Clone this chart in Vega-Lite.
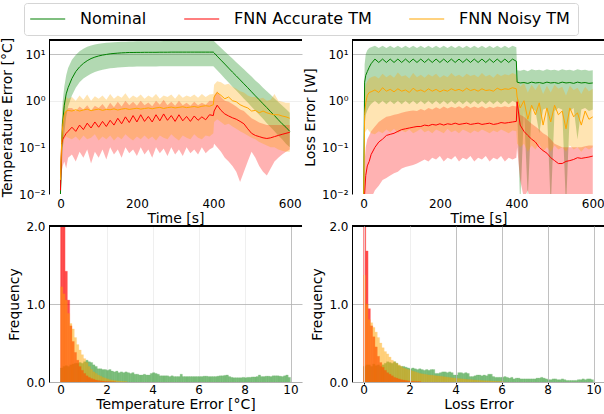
{
"$schema": "https://vega.github.io/schema/vega-lite/v6.json",
"background": "white",
"padding": {"left": 0, "top": 2, "right": 0, "bottom": 0},
"config": {
  "font": "DejaVu Sans",
  "view": {"stroke": null},
  "axis": {"labelFont": "DejaVu Sans", "titleFont": "DejaVu Sans", "labelFontSize": 12, "titleFontSize": 14, "titleFontWeight": "normal", "labelColor": "#000", "titleColor": "#000", "domainColor": "#000", "tickColor": "#000", "gridWidth": 0.8, "labelFlush": false}
},
"datasets": {
"ts": [
{"p":"T","t":0,"Nm":0.01,"Nl":0.005,"Nh":0.02,"Am":0.012,"Al":0.008,"Ah":0.02,"Ym":0.02,"Yl":0.01,"Yh":0.05},
{"p":"T","t":3,"Nm":0.1,"Nl":0.03,"Nh":0.3,"Am":0.12,"Al":0.03,"Ah":0.3,"Ym":0.12,"Yl":0.05,"Yh":0.25},
{"p":"T","t":6,"Nm":0.35,"Nl":0.1,"Nh":1.0,"Am":0.15,"Al":0.04,"Ah":0.4,"Ym":0.3,"Yl":0.1,"Yh":0.7},
{"p":"T","t":10,"Nm":0.8,"Nl":0.2,"Nh":2.0,"Am":0.17,"Al":0.05,"Ah":0.55,"Ym":0.5,"Yl":0.15,"Yh":1.0},
{"p":"T","t":15,"Nm":1.4,"Nl":0.45,"Nh":3.5,"Am":0.2,"Al":0.035,"Ah":0.6,"Ym":0.6,"Yl":0.17,"Yh":1.2},
{"p":"T","t":20,"Nm":1.9,"Nl":0.75,"Nh":5.0,"Am":0.22,"Al":0.06,"Ah":0.7,"Ym":0.62,"Yl":0.16,"Yh":1.1},
{"p":"T","t":30,"Nm":3.0,"Nl":1.3,"Nh":7.5,"Am":0.27,"Al":0.07,"Ah":0.7,"Ym":0.6,"Yl":0.15,"Yh":1.2},
{"p":"T","t":40,"Nm":4.2,"Nl":1.9,"Nh":9.5,"Am":0.22,"Al":0.05,"Ah":0.6,"Ym":0.64,"Yl":0.17,"Yh":1.0},
{"p":"T","t":50,"Nm":5.3,"Nl":2.5,"Nh":11.5,"Am":0.3,"Al":0.08,"Ah":0.75,"Ym":0.6,"Yl":0.14,"Yh":1.3},
{"p":"T","t":60,"Nm":6.3,"Nl":3.0,"Nh":13,"Am":0.24,"Al":0.06,"Ah":0.65,"Ym":0.63,"Yl":0.18,"Yh":1.05},
{"p":"T","t":70,"Nm":7.2,"Nl":3.4,"Nh":14.3,"Am":0.33,"Al":0.09,"Ah":0.8,"Ym":0.66,"Yl":0.15,"Yh":1.35},
{"p":"T","t":80,"Nm":8.0,"Nl":3.8,"Nh":15.3,"Am":0.26,"Al":0.045,"Ah":0.62,"Ym":0.61,"Yl":0.16,"Yh":1.0},
{"p":"T","t":90,"Nm":8.6,"Nl":4.1,"Nh":16,"Am":0.35,"Al":0.08,"Ah":0.78,"Ym":0.64,"Yl":0.19,"Yh":1.25},
{"p":"T","t":100,"Nm":9.1,"Nl":4.4,"Nh":16.6,"Am":0.27,"Al":0.06,"Ah":0.7,"Ym":0.66,"Yl":0.14,"Yh":1.1},
{"p":"T","t":110,"Nm":9.5,"Nl":4.6,"Nh":17,"Am":0.36,"Al":0.09,"Ah":0.85,"Ym":0.62,"Yl":0.17,"Yh":1.3},
{"p":"T","t":120,"Nm":9.8,"Nl":4.8,"Nh":17.4,"Am":0.28,"Al":0.055,"Ah":0.66,"Ym":0.65,"Yl":0.15,"Yh":1.05},
{"p":"T","t":130,"Nm":10.1,"Nl":4.95,"Nh":17.7,"Am":0.38,"Al":0.1,"Ah":0.9,"Ym":0.64,"Yl":0.18,"Yh":1.4},
{"p":"T","t":140,"Nm":10.3,"Nl":5.05,"Nh":17.9,"Am":0.3,"Al":0.07,"Ah":0.72,"Ym":0.67,"Yl":0.14,"Yh":1.1},
{"p":"T","t":150,"Nm":10.45,"Nl":5.15,"Nh":18.1,"Am":0.42,"Al":0.09,"Ah":0.95,"Ym":0.63,"Yl":0.17,"Yh":1.3},
{"p":"T","t":160,"Nm":10.6,"Nl":5.2,"Nh":18.3,"Am":0.32,"Al":0.06,"Ah":0.75,"Ym":0.66,"Yl":0.15,"Yh":1.15},
{"p":"T","t":170,"Nm":10.7,"Nl":5.3,"Nh":18.4,"Am":0.45,"Al":0.1,"Ah":1.0,"Ym":0.68,"Yl":0.19,"Yh":1.45},
{"p":"T","t":180,"Nm":10.8,"Nl":5.35,"Nh":18.5,"Am":0.34,"Al":0.075,"Ah":0.8,"Ym":0.65,"Yl":0.16,"Yh":1.1},
{"p":"T","t":190,"Nm":10.8,"Nl":5.35,"Nh":18.6,"Am":0.48,"Al":0.09,"Ah":0.95,"Ym":0.67,"Yl":0.14,"Yh":1.3},
{"p":"T","t":200,"Nm":10.85,"Nl":5.4,"Nh":18.7,"Am":0.35,"Al":0.065,"Ah":0.78,"Ym":0.69,"Yl":0.17,"Yh":1.15},
{"p":"T","t":210,"Nm":10.85,"Nl":5.4,"Nh":18.7,"Am":0.5,"Al":0.1,"Ah":1.0,"Ym":0.66,"Yl":0.15,"Yh":1.35},
{"p":"T","t":220,"Nm":10.9,"Nl":5.4,"Nh":18.8,"Am":0.36,"Al":0.07,"Ah":0.8,"Ym":0.68,"Yl":0.18,"Yh":1.1},
{"p":"T","t":230,"Nm":10.9,"Nl":5.42,"Nh":18.8,"Am":0.46,"Al":0.09,"Ah":0.92,"Ym":0.7,"Yl":0.15,"Yh":1.3},
{"p":"T","t":240,"Nm":10.9,"Nl":5.42,"Nh":18.9,"Am":0.35,"Al":0.06,"Ah":0.76,"Ym":0.67,"Yl":0.17,"Yh":1.15},
{"p":"T","t":250,"Nm":10.9,"Nl":5.44,"Nh":18.9,"Am":0.5,"Al":0.1,"Ah":1.0,"Ym":0.7,"Yl":0.14,"Yh":1.4},
{"p":"T","t":260,"Nm":10.95,"Nl":5.45,"Nh":18.9,"Am":0.37,"Al":0.075,"Ah":0.82,"Ym":0.72,"Yl":0.18,"Yh":1.1},
{"p":"T","t":270,"Nm":10.95,"Nl":5.45,"Nh":19,"Am":0.52,"Al":0.095,"Ah":1.05,"Ym":0.68,"Yl":0.16,"Yh":1.3},
{"p":"T","t":280,"Nm":10.95,"Nl":5.46,"Nh":19,"Am":0.38,"Al":0.065,"Ah":0.8,"Ym":0.71,"Yl":0.15,"Yh":1.2},
{"p":"T","t":290,"Nm":11,"Nl":5.46,"Nh":19,"Am":0.48,"Al":0.1,"Ah":0.95,"Ym":0.73,"Yl":0.19,"Yh":1.35},
{"p":"T","t":300,"Nm":11,"Nl":5.47,"Nh":19,"Am":0.36,"Al":0.07,"Ah":0.78,"Ym":0.7,"Yl":0.16,"Yh":1.1},
{"p":"T","t":310,"Nm":11,"Nl":5.47,"Nh":19.1,"Am":0.5,"Al":0.09,"Ah":1.0,"Ym":0.72,"Yl":0.14,"Yh":1.4},
{"p":"T","t":320,"Nm":11,"Nl":5.48,"Nh":19.1,"Am":0.37,"Al":0.065,"Ah":0.8,"Ym":0.74,"Yl":0.18,"Yh":1.15},
{"p":"T","t":330,"Nm":11,"Nl":5.48,"Nh":19.1,"Am":0.46,"Al":0.1,"Ah":0.9,"Ym":0.71,"Yl":0.16,"Yh":1.3},
{"p":"T","t":340,"Nm":11,"Nl":5.48,"Nh":19.1,"Am":0.36,"Al":0.075,"Ah":0.78,"Ym":0.73,"Yl":0.15,"Yh":1.2},
{"p":"T","t":350,"Nm":11,"Nl":5.49,"Nh":19.2,"Am":0.47,"Al":0.09,"Ah":0.95,"Ym":0.75,"Yl":0.19,"Yh":1.35},
{"p":"T","t":360,"Nm":11,"Nl":5.49,"Nh":19.2,"Am":0.38,"Al":0.07,"Ah":0.8,"Ym":0.72,"Yl":0.16,"Yh":1.15},
{"p":"T","t":370,"Nm":11,"Nl":5.5,"Nh":19.2,"Am":0.45,"Al":0.1,"Ah":0.9,"Ym":0.76,"Yl":0.15,"Yh":1.4},
{"p":"T","t":380,"Nm":11,"Nl":5.5,"Nh":19.2,"Am":0.39,"Al":0.075,"Ah":0.82,"Ym":0.78,"Yl":0.18,"Yh":1.2},
{"p":"T","t":390,"Nm":11,"Nl":5.5,"Nh":19.2,"Am":0.5,"Al":0.09,"Ah":1.0,"Ym":0.76,"Yl":0.17,"Yh":1.35},
{"p":"T","t":400,"Nm":11,"Nl":5.5,"Nh":19.2,"Am":0.48,"Al":0.1,"Ah":1.0,"Ym":0.82,"Yl":0.2,"Yh":1.4},
{"p":"T","t":402,"Nm":10.6,"Nl":5.3,"Nh":18.9,"Am":0.6,"Al":0.12,"Ah":1.3,"Ym":1.2,"Yl":0.35,"Yh":2.2},
{"p":"T","t":410,"Nm":9.0,"Nl":4.5,"Nh":16.3,"Am":0.8,"Al":0.1,"Ah":1.6,"Ym":1.5,"Yl":0.4,"Yh":2.6},
{"p":"T","t":420,"Nm":7.4,"Nl":3.7,"Nh":13.6,"Am":0.62,"Al":0.08,"Ah":1.2,"Ym":1.3,"Yl":0.35,"Yh":2.5},
{"p":"T","t":430,"Nm":6.1,"Nl":3.0,"Nh":11.4,"Am":0.52,"Al":0.06,"Ah":1.0,"Ym":1.1,"Yl":0.3,"Yh":2.2},
{"p":"T","t":440,"Nm":5.0,"Nl":2.47,"Nh":9.5,"Am":0.47,"Al":0.05,"Ah":0.95,"Ym":1.2,"Yl":0.32,"Yh":2.3},
{"p":"T","t":450,"Nm":4.1,"Nl":2.0,"Nh":8.0,"Am":0.43,"Al":0.04,"Ah":0.85,"Ym":1.0,"Yl":0.28,"Yh":2.0},
{"p":"T","t":460,"Nm":3.4,"Nl":1.65,"Nh":6.7,"Am":0.4,"Al":0.03,"Ah":0.75,"Ym":0.95,"Yl":0.25,"Yh":1.8},
{"p":"T","t":470,"Nm":2.8,"Nl":1.35,"Nh":5.6,"Am":0.36,"Al":0.018,"Ah":0.65,"Ym":0.82,"Yl":0.22,"Yh":1.6},
{"p":"T","t":480,"Nm":2.3,"Nl":1.1,"Nh":4.7,"Am":0.32,"Al":0.03,"Ah":0.6,"Ym":0.75,"Yl":0.2,"Yh":1.5},
{"p":"T","t":490,"Nm":1.9,"Nl":0.91,"Nh":3.9,"Am":0.25,"Al":0.05,"Ah":0.5,"Ym":0.7,"Yl":0.18,"Yh":1.3},
{"p":"T","t":500,"Nm":1.55,"Nl":0.74,"Nh":3.3,"Am":0.2,"Al":0.08,"Ah":0.42,"Ym":0.6,"Yl":0.16,"Yh":1.2},
{"p":"T","t":510,"Nm":1.27,"Nl":0.61,"Nh":2.7,"Am":0.18,"Al":0.06,"Ah":0.38,"Ym":0.62,"Yl":0.15,"Yh":1.2},
{"p":"T","t":520,"Nm":1.05,"Nl":0.5,"Nh":2.3,"Am":0.17,"Al":0.04,"Ah":0.34,"Ym":0.55,"Yl":0.13,"Yh":1.1},
{"p":"T","t":530,"Nm":0.86,"Nl":0.41,"Nh":1.9,"Am":0.16,"Al":0.03,"Ah":0.32,"Ym":0.6,"Yl":0.12,"Yh":1.15},
{"p":"T","t":540,"Nm":0.71,"Nl":0.33,"Nh":1.6,"Am":0.155,"Al":0.025,"Ah":0.3,"Ym":0.55,"Yl":0.11,"Yh":1.0},
{"p":"T","t":550,"Nm":0.58,"Nl":0.27,"Nh":1.34,"Am":0.16,"Al":0.035,"Ah":0.3,"Ym":0.52,"Yl":0.1,"Yh":1.05},
{"p":"T","t":560,"Nm":0.48,"Nl":0.22,"Nh":1.12,"Am":0.17,"Al":0.05,"Ah":0.3,"Ym":0.5,"Yl":0.1,"Yh":1.4},
{"p":"T","t":570,"Nm":0.39,"Nl":0.18,"Nh":0.94,"Am":0.18,"Al":0.06,"Ah":0.3,"Ym":0.5,"Yl":0.09,"Yh":1.0},
{"p":"T","t":580,"Nm":0.32,"Nl":0.15,"Nh":0.79,"Am":0.19,"Al":0.07,"Ah":0.3,"Ym":0.47,"Yl":0.085,"Yh":0.95},
{"p":"T","t":590,"Nm":0.27,"Nl":0.12,"Nh":0.66,"Am":0.2,"Al":0.08,"Ah":0.3,"Ym":0.45,"Yl":0.08,"Yh":0.9},
{"p":"T","t":600,"Nm":0.22,"Nl":0.1,"Nh":0.55,"Am":0.21,"Al":0.09,"Ah":0.3,"Ym":0.42,"Yl":0.08,"Yh":0.9},
{"p":"L","t":0,"Nm":0.003,"Nl":0.001,"Nh":0.005,"Am":0.003,"Al":0.001,"Ah":0.005,"Ym":0.003,"Yl":0.001,"Yh":0.005},
{"p":"L","t":3,"Nm":2.5,"Nl":0.3,"Nh":6,"Am":0.01,"Al":0.001,"Ah":0.05,"Ym":0.5,"Yl":0.2,"Yh":1.5},
{"p":"L","t":6,"Nm":3.5,"Nl":0.5,"Nh":10,"Am":0.025,"Al":0.002,"Ah":0.1,"Ym":0.9,"Yl":0.22,"Yh":2.2},
{"p":"L","t":10,"Nm":4.2,"Nl":0.62,"Nh":12,"Am":0.04,"Al":0.004,"Ah":0.15,"Ym":1.3,"Yl":0.25,"Yh":2.6},
{"p":"L","t":15,"Nm":5.2,"Nl":0.75,"Nh":13.5,"Am":0.05,"Al":0.006,"Ah":0.18,"Ym":1.5,"Yl":0.22,"Yh":3.0},
{"p":"L","t":20,"Nm":6.2,"Nl":0.85,"Nh":14,"Am":0.07,"Al":0.008,"Ah":0.22,"Ym":1.55,"Yl":0.2,"Yh":3.2},
{"p":"L","t":30,"Nm":7.8,"Nl":1.0,"Nh":15,"Am":0.1,"Al":0.012,"Ah":0.28,"Ym":1.7,"Yl":0.19,"Yh":3.4},
{"p":"L","t":40,"Nm":6.6,"Nl":0.84,"Nh":13.5,"Am":0.13,"Al":0.015,"Ah":0.35,"Ym":1.5,"Yl":0.22,"Yh":3.0},
{"p":"L","t":50,"Nm":7.8,"Nl":1.0,"Nh":15,"Am":0.15,"Al":0.02,"Ah":0.4,"Ym":1.9,"Yl":0.2,"Yh":3.8},
{"p":"L","t":60,"Nm":6.6,"Nl":0.84,"Nh":13.5,"Am":0.18,"Al":0.022,"Ah":0.45,"Ym":1.6,"Yl":0.24,"Yh":3.2},
{"p":"L","t":70,"Nm":7.8,"Nl":1.0,"Nh":15,"Am":0.19,"Al":0.025,"Ah":0.47,"Ym":1.75,"Yl":0.21,"Yh":3.6},
{"p":"L","t":80,"Nm":6.6,"Nl":0.84,"Nh":13.5,"Am":0.2,"Al":0.028,"Ah":0.5,"Ym":1.55,"Yl":0.25,"Yh":3.1},
{"p":"L","t":90,"Nm":7.8,"Nl":1.0,"Nh":15,"Am":0.22,"Al":0.03,"Ah":0.52,"Ym":1.8,"Yl":0.2,"Yh":4.0},
{"p":"L","t":100,"Nm":6.6,"Nl":0.84,"Nh":13.5,"Am":0.24,"Al":0.035,"Ah":0.55,"Ym":1.6,"Yl":0.23,"Yh":3.3},
{"p":"L","t":110,"Nm":7.8,"Nl":1.0,"Nh":15,"Am":0.25,"Al":0.038,"Ah":0.58,"Ym":1.7,"Yl":0.21,"Yh":3.5},
{"p":"L","t":120,"Nm":6.6,"Nl":0.84,"Nh":13.5,"Am":0.26,"Al":0.04,"Ah":0.6,"Ym":1.5,"Yl":0.24,"Yh":3.0},
{"p":"L","t":130,"Nm":7.8,"Nl":1.0,"Nh":15,"Am":0.27,"Al":0.042,"Ah":0.62,"Ym":1.85,"Yl":0.2,"Yh":3.9},
{"p":"L","t":140,"Nm":6.6,"Nl":0.84,"Nh":13.5,"Am":0.28,"Al":0.045,"Ah":0.6,"Ym":1.6,"Yl":0.22,"Yh":3.2},
{"p":"L","t":150,"Nm":7.8,"Nl":1.0,"Nh":15,"Am":0.28,"Al":0.05,"Ah":0.66,"Ym":1.7,"Yl":0.25,"Yh":3.6},
{"p":"L","t":160,"Nm":6.6,"Nl":0.84,"Nh":13.5,"Am":0.3,"Al":0.055,"Ah":0.62,"Ym":1.55,"Yl":0.21,"Yh":3.1},
{"p":"L","t":170,"Nm":7.8,"Nl":1.0,"Nh":15,"Am":0.29,"Al":0.05,"Ah":0.7,"Ym":1.8,"Yl":0.23,"Yh":3.7},
{"p":"L","t":180,"Nm":6.6,"Nl":0.84,"Nh":13.5,"Am":0.31,"Al":0.06,"Ah":0.65,"Ym":1.6,"Yl":0.2,"Yh":3.3},
{"p":"L","t":190,"Nm":7.8,"Nl":1.0,"Nh":15,"Am":0.3,"Al":0.055,"Ah":0.72,"Ym":1.75,"Yl":0.24,"Yh":3.8},
{"p":"L","t":200,"Nm":6.6,"Nl":0.84,"Nh":13.5,"Am":0.32,"Al":0.065,"Ah":0.66,"Ym":1.55,"Yl":0.22,"Yh":3.1},
{"p":"L","t":210,"Nm":7.8,"Nl":1.0,"Nh":15,"Am":0.3,"Al":0.05,"Ah":0.75,"Ym":1.7,"Yl":0.2,"Yh":3.5},
{"p":"L","t":220,"Nm":6.6,"Nl":0.84,"Nh":13.5,"Am":0.32,"Al":0.06,"Ah":0.68,"Ym":1.6,"Yl":0.25,"Yh":3.2},
{"p":"L","t":230,"Nm":7.8,"Nl":1.0,"Nh":15,"Am":0.31,"Al":0.055,"Ah":0.74,"Ym":1.8,"Yl":0.21,"Yh":3.9},
{"p":"L","t":240,"Nm":6.6,"Nl":0.84,"Nh":13.5,"Am":0.33,"Al":0.065,"Ah":0.7,"Ym":1.65,"Yl":0.23,"Yh":3.3},
{"p":"L","t":250,"Nm":7.8,"Nl":1.0,"Nh":15,"Am":0.31,"Al":0.05,"Ah":0.76,"Ym":1.75,"Yl":0.2,"Yh":3.6},
{"p":"L","t":260,"Nm":6.6,"Nl":0.84,"Nh":13.5,"Am":0.32,"Al":0.06,"Ah":0.68,"Ym":1.6,"Yl":0.24,"Yh":3.2},
{"p":"L","t":270,"Nm":7.8,"Nl":1.0,"Nh":15,"Am":0.33,"Al":0.055,"Ah":0.78,"Ym":1.85,"Yl":0.22,"Yh":3.8},
{"p":"L","t":280,"Nm":6.6,"Nl":0.84,"Nh":13.5,"Am":0.31,"Al":0.065,"Ah":0.7,"Ym":1.65,"Yl":0.2,"Yh":3.4},
{"p":"L","t":290,"Nm":7.8,"Nl":1.0,"Nh":15,"Am":0.32,"Al":0.05,"Ah":0.75,"Ym":1.75,"Yl":0.23,"Yh":3.6},
{"p":"L","t":300,"Nm":6.6,"Nl":0.84,"Nh":13.5,"Am":0.33,"Al":0.06,"Ah":0.7,"Ym":1.6,"Yl":0.21,"Yh":3.2},
{"p":"L","t":310,"Nm":7.8,"Nl":1.0,"Nh":15,"Am":0.31,"Al":0.055,"Ah":0.76,"Ym":1.8,"Yl":0.24,"Yh":3.9},
{"p":"L","t":320,"Nm":6.6,"Nl":0.84,"Nh":13.5,"Am":0.32,"Al":0.065,"Ah":0.68,"Ym":1.65,"Yl":0.22,"Yh":3.3},
{"p":"L","t":330,"Nm":7.8,"Nl":1.0,"Nh":15,"Am":0.33,"Al":0.05,"Ah":0.74,"Ym":1.7,"Yl":0.2,"Yh":3.6},
{"p":"L","t":340,"Nm":6.6,"Nl":0.84,"Nh":13.5,"Am":0.31,"Al":0.06,"Ah":0.7,"Ym":1.6,"Yl":0.23,"Yh":3.1},
{"p":"L","t":350,"Nm":7.8,"Nl":1.0,"Nh":15,"Am":0.32,"Al":0.055,"Ah":0.75,"Ym":1.85,"Yl":0.21,"Yh":3.8},
{"p":"L","t":360,"Nm":6.6,"Nl":0.84,"Nh":13.5,"Am":0.34,"Al":0.065,"Ah":0.72,"Ym":1.7,"Yl":0.24,"Yh":3.4},
{"p":"L","t":370,"Nm":7.8,"Nl":1.0,"Nh":15,"Am":0.33,"Al":0.05,"Ah":0.76,"Ym":1.8,"Yl":0.22,"Yh":3.7},
{"p":"L","t":380,"Nm":6.6,"Nl":0.84,"Nh":13.5,"Am":0.34,"Al":0.06,"Ah":0.72,"Ym":1.75,"Yl":0.2,"Yh":3.5},
{"p":"L","t":390,"Nm":7.8,"Nl":1.0,"Nh":15,"Am":0.35,"Al":0.055,"Ah":0.78,"Ym":1.9,"Yl":0.23,"Yh":3.9},
{"p":"L","t":400,"Nm":7.0,"Nl":0.9,"Nh":14,"Am":0.36,"Al":0.06,"Ah":0.75,"Ym":1.8,"Yl":0.22,"Yh":3.6},
{"p":"L","t":402,"Nm":2.5,"Nl":0.8,"Nh":4.5,"Am":0.95,"Al":0.1,"Ah":1.2,"Ym":1.2,"Yl":0.12,"Yh":3.0},
{"p":"L","t":410,"Nm":2.4,"Nl":0.005,"Nh":4.4,"Am":0.3,"Al":0.02,"Ah":0.5,"Ym":0.7,"Yl":0.1,"Yh":2.0},
{"p":"L","t":420,"Nm":2.45,"Nl":0.6,"Nh":4.6,"Am":0.22,"Al":0.008,"Ah":0.45,"Ym":1.0,"Yl":0.12,"Yh":2.4},
{"p":"L","t":430,"Nm":2.35,"Nl":0.008,"Nh":4.3,"Am":0.18,"Al":0.012,"Ah":0.38,"Ym":0.4,"Yl":0.08,"Yh":1.5},
{"p":"L","t":440,"Nm":2.5,"Nl":0.7,"Nh":4.7,"Am":0.15,"Al":0.005,"Ah":0.32,"Ym":0.8,"Yl":0.11,"Yh":2.2},
{"p":"L","t":450,"Nm":2.4,"Nl":0.6,"Nh":4.5,"Am":0.13,"Al":0.006,"Ah":0.28,"Ym":0.5,"Yl":0.09,"Yh":1.7},
{"p":"L","t":460,"Nm":2.45,"Nl":0.2,"Nh":4.6,"Am":0.1,"Al":0.004,"Ah":0.24,"Ym":0.9,"Yl":0.12,"Yh":2.3},
{"p":"L","t":470,"Nm":2.35,"Nl":0.65,"Nh":4.4,"Am":0.085,"Al":0.006,"Ah":0.2,"Ym":0.3,"Yl":0.08,"Yh":1.4},
{"p":"L","t":480,"Nm":2.5,"Nl":0.7,"Nh":4.7,"Am":0.075,"Al":0.005,"Ah":0.18,"Ym":0.7,"Yl":0.1,"Yh":2.1},
{"p":"L","t":490,"Nm":2.4,"Nl":0.005,"Nh":4.5,"Am":0.06,"Al":0.004,"Ah":0.15,"Ym":0.35,"Yl":0.08,"Yh":1.5},
{"p":"L","t":500,"Nm":2.45,"Nl":0.6,"Nh":4.6,"Am":0.052,"Al":0.006,"Ah":0.12,"Ym":0.8,"Yl":0.11,"Yh":2.2},
{"p":"L","t":510,"Nm":2.35,"Nl":0.7,"Nh":4.4,"Am":0.045,"Al":0.005,"Ah":0.11,"Ym":0.5,"Yl":0.09,"Yh":1.8},
{"p":"L","t":520,"Nm":2.5,"Nl":0.65,"Nh":4.7,"Am":0.045,"Al":0.004,"Ah":0.1,"Ym":0.6,"Yl":0.1,"Yh":2.0},
{"p":"L","t":530,"Nm":2.4,"Nl":0.005,"Nh":4.5,"Am":0.05,"Al":0.006,"Ah":0.1,"Ym":0.25,"Yl":0.08,"Yh":1.3},
{"p":"L","t":540,"Nm":2.45,"Nl":0.6,"Nh":4.6,"Am":0.052,"Al":0.005,"Ah":0.1,"Ym":0.7,"Yl":0.11,"Yh":2.1},
{"p":"L","t":550,"Nm":2.35,"Nl":0.7,"Nh":4.4,"Am":0.055,"Al":0.004,"Ah":0.1,"Ym":0.45,"Yl":0.09,"Yh":1.7},
{"p":"L","t":560,"Nm":2.5,"Nl":0.15,"Nh":4.7,"Am":0.06,"Al":0.006,"Ah":0.1,"Ym":0.55,"Yl":0.1,"Yh":1.9},
{"p":"L","t":570,"Nm":2.4,"Nl":0.65,"Nh":4.5,"Am":0.058,"Al":0.005,"Ah":0.1,"Ym":0.3,"Yl":0.08,"Yh":1.4},
{"p":"L","t":580,"Nm":2.45,"Nl":0.7,"Nh":4.6,"Am":0.06,"Al":0.007,"Ah":0.105,"Ym":0.6,"Yl":0.1,"Yh":2.0},
{"p":"L","t":590,"Nm":2.35,"Nl":0.6,"Nh":4.4,"Am":0.062,"Al":0.005,"Ah":0.11,"Ym":0.4,"Yl":0.09,"Yh":1.6},
{"p":"L","t":600,"Nm":2.4,"Nl":0.65,"Nh":4.5,"Am":0.065,"Al":0.006,"Ah":0.11,"Ym":0.45,"Yl":0.1,"Yh":1.8}
],
"hist": [
{"p":"T","b":0,"e":0.1,"N":0.18,"A":2.6,"Y":1.22},
{"p":"T","b":0.1,"e":0.2,"N":0.2,"A":2.3,"Y":1.13},
{"p":"T","b":0.2,"e":0.3,"N":0.21,"A":1.42,"Y":1.05},
{"p":"T","b":0.3,"e":0.4,"N":0.2,"A":1.05,"Y":0.88},
{"p":"T","b":0.4,"e":0.5,"N":0.22,"A":0.72,"Y":0.75},
{"p":"T","b":0.5,"e":0.6,"N":0.23,"A":0.52,"Y":0.68},
{"p":"T","b":0.6,"e":0.7,"N":0.24,"A":0.38,"Y":0.57},
{"p":"T","b":0.7,"e":0.8,"N":0.24,"A":0.28,"Y":0.48},
{"p":"T","b":0.8,"e":0.9,"N":0.25,"A":0.2,"Y":0.41},
{"p":"T","b":0.9,"e":1.0,"N":0.24,"A":0.15,"Y":0.35},
{"p":"T","b":1.0,"e":1.1,"N":0.26,"A":0.11,"Y":0.3},
{"p":"T","b":1.1,"e":1.2,"N":0.28,"A":0.08,"Y":0.25},
{"p":"T","b":1.2,"e":1.3,"N":0.26,"A":0.06,"Y":0.2},
{"p":"T","b":1.3,"e":1.4,"N":0.25,"A":0.045,"Y":0.16},
{"p":"T","b":1.4,"e":1.5,"N":0.22,"A":0.035,"Y":0.13},
{"p":"T","b":1.5,"e":1.6,"N":0.2,"A":0.025,"Y":0.11},
{"p":"T","b":1.6,"e":1.7,"N":0.17,"A":0.02,"Y":0.09},
{"p":"T","b":1.7,"e":1.8,"N":0.17,"A":0.015,"Y":0.075},
{"p":"T","b":1.8,"e":1.9,"N":0.16,"A":0.012,"Y":0.06},
{"p":"T","b":1.9,"e":2.0,"N":0.16,"A":0.008,"Y":0.05},
{"p":"T","b":2.0,"e":2.1,"N":0.15,"A":0.006,"Y":0.04},
{"p":"T","b":2.1,"e":2.2,"N":0.16,"A":0.005,"Y":0.03},
{"p":"T","b":2.2,"e":2.3,"N":0.14,"A":0.004,"Y":0.025},
{"p":"T","b":2.3,"e":2.4,"N":0.13,"A":0.003,"Y":0.02},
{"p":"T","b":2.4,"e":2.5,"N":0.14,"Y":0.016},
{"p":"T","b":2.5,"e":2.6,"N":0.12,"Y":0.013},
{"p":"T","b":2.6,"e":2.7,"N":0.13,"Y":0.01},
{"p":"T","b":2.7,"e":2.8,"N":0.12,"Y":0.008},
{"p":"T","b":2.8,"e":2.9,"N":0.13,"Y":0.006},
{"p":"T","b":2.9,"e":3.0,"N":0.12},
{"p":"T","b":3.0,"e":3.1,"N":0.11},
{"p":"T","b":3.1,"e":3.2,"N":0.12},
{"p":"T","b":3.2,"e":3.3,"N":0.1},
{"p":"T","b":3.3,"e":3.4,"N":0.1},
{"p":"T","b":3.4,"e":3.5,"N":0.09},
{"p":"T","b":3.5,"e":3.6,"N":0.09},
{"p":"T","b":3.6,"e":3.7,"N":0.1},
{"p":"T","b":3.7,"e":3.8,"N":0.09},
{"p":"T","b":3.8,"e":3.9,"N":0.09},
{"p":"T","b":3.9,"e":4.0,"N":0.11},
{"p":"T","b":4.0,"e":4.1,"N":0.12},
{"p":"T","b":4.1,"e":4.2,"N":0.11},
{"p":"T","b":4.2,"e":4.3,"N":0.1},
{"p":"T","b":4.3,"e":4.4,"N":0.08},
{"p":"T","b":4.4,"e":4.5,"N":0.08},
{"p":"T","b":4.5,"e":4.6,"N":0.08},
{"p":"T","b":4.6,"e":4.7,"N":0.08},
{"p":"T","b":4.7,"e":4.8,"N":0.07},
{"p":"T","b":4.8,"e":4.9,"N":0.08},
{"p":"T","b":4.9,"e":5.0,"N":0.07},
{"p":"T","b":5.0,"e":5.1,"N":0.07},
{"p":"T","b":5.1,"e":5.2,"N":0.07},
{"p":"T","b":5.2,"e":5.3,"N":0.1},
{"p":"T","b":5.3,"e":5.4,"N":0.07},
{"p":"T","b":5.4,"e":5.5,"N":0.07},
{"p":"T","b":5.5,"e":5.6,"N":0.07},
{"p":"T","b":5.6,"e":5.7,"N":0.07},
{"p":"T","b":5.7,"e":5.8,"N":0.07},
{"p":"T","b":5.8,"e":5.9,"N":0.07},
{"p":"T","b":5.9,"e":6.0,"N":0.07},
{"p":"T","b":6.0,"e":6.1,"N":0.07},
{"p":"T","b":6.1,"e":6.2,"N":0.07},
{"p":"T","b":6.2,"e":6.3,"N":0.075},
{"p":"T","b":6.3,"e":6.4,"N":0.075},
{"p":"T","b":6.4,"e":6.5,"N":0.07},
{"p":"T","b":6.5,"e":6.6,"N":0.07},
{"p":"T","b":6.6,"e":6.7,"N":0.07},
{"p":"T","b":6.7,"e":6.8,"N":0.07},
{"p":"T","b":6.8,"e":6.9,"N":0.075},
{"p":"T","b":6.9,"e":7.0,"N":0.08},
{"p":"T","b":7.0,"e":7.1,"N":0.08},
{"p":"T","b":7.1,"e":7.2,"N":0.085},
{"p":"T","b":7.2,"e":7.3,"N":0.09},
{"p":"T","b":7.3,"e":7.4,"N":0.07},
{"p":"T","b":7.4,"e":7.5,"N":0.06},
{"p":"T","b":7.5,"e":7.6,"N":0.055},
{"p":"T","b":7.6,"e":7.7,"N":0.055},
{"p":"T","b":7.7,"e":7.8,"N":0.055},
{"p":"T","b":7.8,"e":7.9,"N":0.055},
{"p":"T","b":7.9,"e":8.0,"N":0.06},
{"p":"T","b":8.0,"e":8.1,"N":0.055},
{"p":"T","b":8.1,"e":8.2,"N":0.06},
{"p":"T","b":8.2,"e":8.3,"N":0.06},
{"p":"T","b":8.3,"e":8.4,"N":0.065},
{"p":"T","b":8.4,"e":8.5,"N":0.065},
{"p":"T","b":8.5,"e":8.6,"N":0.07},
{"p":"T","b":8.6,"e":8.7,"N":0.09},
{"p":"T","b":8.7,"e":8.8,"N":0.07},
{"p":"T","b":8.8,"e":8.9,"N":0.07},
{"p":"T","b":8.9,"e":9.0,"N":0.075},
{"p":"T","b":9.0,"e":9.1,"N":0.075},
{"p":"T","b":9.1,"e":9.2,"N":0.07},
{"p":"T","b":9.2,"e":9.3,"N":0.08},
{"p":"T","b":9.3,"e":9.4,"N":0.08},
{"p":"T","b":9.4,"e":9.5,"N":0.08},
{"p":"T","b":9.5,"e":9.6,"N":0.075},
{"p":"T","b":9.6,"e":9.7,"N":0.07},
{"p":"T","b":9.7,"e":9.8,"N":0.08},
{"p":"T","b":9.8,"e":9.9,"N":0.09},
{"p":"T","b":9.9,"e":10.0,"N":0.06},
{"p":"L","b":0,"e":0.1,"N":0.2,"A":2.8,"Y":1.37},
{"p":"L","b":0.1,"e":0.2,"N":0.22,"A":1.68,"Y":1.0},
{"p":"L","b":0.2,"e":0.3,"N":0.22,"A":0.94,"Y":0.8},
{"p":"L","b":0.3,"e":0.4,"N":0.2,"A":0.72,"Y":0.76},
{"p":"L","b":0.4,"e":0.5,"N":0.23,"A":0.58,"Y":0.7},
{"p":"L","b":0.5,"e":0.6,"N":0.21,"A":0.45,"Y":0.64},
{"p":"L","b":0.6,"e":0.7,"N":0.22,"A":0.33,"Y":0.57},
{"p":"L","b":0.7,"e":0.8,"N":0.2,"A":0.25,"Y":0.5},
{"p":"L","b":0.8,"e":0.9,"N":0.22,"A":0.19,"Y":0.44},
{"p":"L","b":0.9,"e":1.0,"N":0.24,"A":0.15,"Y":0.39},
{"p":"L","b":1.0,"e":1.1,"N":0.26,"A":0.12,"Y":0.36},
{"p":"L","b":1.1,"e":1.2,"N":0.25,"A":0.1,"Y":0.32},
{"p":"L","b":1.2,"e":1.3,"N":0.24,"A":0.08,"Y":0.28},
{"p":"L","b":1.3,"e":1.4,"N":0.26,"A":0.06,"Y":0.26},
{"p":"L","b":1.4,"e":1.5,"N":0.24,"A":0.05,"Y":0.24},
{"p":"L","b":1.5,"e":1.6,"N":0.21,"A":0.04,"Y":0.22},
{"p":"L","b":1.6,"e":1.7,"N":0.2,"A":0.03,"Y":0.2},
{"p":"L","b":1.7,"e":1.8,"N":0.2,"A":0.025,"Y":0.18},
{"p":"L","b":1.8,"e":1.9,"N":0.19,"A":0.02,"Y":0.17},
{"p":"L","b":1.9,"e":2.0,"N":0.18,"A":0.015,"Y":0.16},
{"p":"L","b":2.0,"e":2.1,"N":0.17,"A":0.012,"Y":0.15},
{"p":"L","b":2.1,"e":2.2,"N":0.18,"A":0.01,"Y":0.14},
{"p":"L","b":2.2,"e":2.3,"N":0.17,"A":0.008,"Y":0.13},
{"p":"L","b":2.3,"e":2.4,"N":0.16,"A":0.006,"Y":0.12},
{"p":"L","b":2.4,"e":2.5,"N":0.17,"A":0.005,"Y":0.11},
{"p":"L","b":2.5,"e":2.6,"N":0.16,"Y":0.105},
{"p":"L","b":2.6,"e":2.7,"N":0.15,"Y":0.1},
{"p":"L","b":2.7,"e":2.8,"N":0.16,"Y":0.095},
{"p":"L","b":2.8,"e":2.9,"N":0.15,"Y":0.09},
{"p":"L","b":2.9,"e":3.0,"N":0.16,"Y":0.088},
{"p":"L","b":3.0,"e":3.1,"N":0.16,"Y":0.085},
{"p":"L","b":3.1,"e":3.2,"N":0.11,"Y":0.08},
{"p":"L","b":3.2,"e":3.3,"N":0.11,"Y":0.078},
{"p":"L","b":3.3,"e":3.4,"N":0.12,"Y":0.074},
{"p":"L","b":3.4,"e":3.5,"N":0.13,"Y":0.07},
{"p":"L","b":3.5,"e":3.6,"N":0.13,"Y":0.066},
{"p":"L","b":3.6,"e":3.7,"N":0.12,"Y":0.062},
{"p":"L","b":3.7,"e":3.8,"N":0.13,"Y":0.058},
{"p":"L","b":3.8,"e":3.9,"N":0.12,"Y":0.054},
{"p":"L","b":3.9,"e":4.0,"N":0.09,"Y":0.05},
{"p":"L","b":4.0,"e":4.1,"N":0.09,"Y":0.047},
{"p":"L","b":4.1,"e":4.2,"N":0.12,"Y":0.044},
{"p":"L","b":4.2,"e":4.3,"N":0.12,"Y":0.041},
{"p":"L","b":4.3,"e":4.4,"N":0.11,"Y":0.038},
{"p":"L","b":4.4,"e":4.5,"N":0.12,"Y":0.035},
{"p":"L","b":4.5,"e":4.6,"N":0.11,"Y":0.032},
{"p":"L","b":4.6,"e":4.7,"N":0.07,"Y":0.03},
{"p":"L","b":4.7,"e":4.8,"N":0.07,"Y":0.027},
{"p":"L","b":4.8,"e":4.9,"N":0.08,"Y":0.025},
{"p":"L","b":4.9,"e":5.0,"N":0.09,"Y":0.023},
{"p":"L","b":5.0,"e":5.1,"N":0.09,"Y":0.021},
{"p":"L","b":5.1,"e":5.2,"N":0.08,"Y":0.019},
{"p":"L","b":5.2,"e":5.3,"N":0.09,"Y":0.017},
{"p":"L","b":5.3,"e":5.4,"N":0.08,"Y":0.016},
{"p":"L","b":5.4,"e":5.5,"N":0.1,"Y":0.015},
{"p":"L","b":5.5,"e":5.6,"N":0.1,"Y":0.014},
{"p":"L","b":5.6,"e":5.7,"N":0.07,"Y":0.012},
{"p":"L","b":5.7,"e":5.8,"N":0.06,"Y":0.01},
{"p":"L","b":5.8,"e":5.9,"N":0.06,"Y":0.009},
{"p":"L","b":5.9,"e":6.0,"N":0.06,"Y":0.008},
{"p":"L","b":6.0,"e":6.1,"N":0.06,"Y":0.007},
{"p":"L","b":6.1,"e":6.2,"N":0.07},
{"p":"L","b":6.2,"e":6.3,"N":0.06},
{"p":"L","b":6.3,"e":6.4,"N":0.05},
{"p":"L","b":6.4,"e":6.5,"N":0.06},
{"p":"L","b":6.5,"e":6.6,"N":0.04},
{"p":"L","b":6.6,"e":6.7,"N":0.05},
{"p":"L","b":6.7,"e":6.8,"N":0.05},
{"p":"L","b":6.8,"e":6.9,"N":0.04},
{"p":"L","b":6.9,"e":7.0,"N":0.04},
{"p":"L","b":7.0,"e":7.1,"N":0.04},
{"p":"L","b":7.1,"e":7.2,"N":0.04},
{"p":"L","b":7.2,"e":7.3,"N":0.04},
{"p":"L","b":7.3,"e":7.4,"N":0.04},
{"p":"L","b":7.4,"e":7.5,"N":0.04},
{"p":"L","b":7.5,"e":7.6,"N":0.05},
{"p":"L","b":7.6,"e":7.7,"N":0.05},
{"p":"L","b":7.7,"e":7.8,"N":0.06},
{"p":"L","b":7.8,"e":7.9,"N":0.05},
{"p":"L","b":7.9,"e":8.0,"N":0.04},
{"p":"L","b":8.0,"e":8.1,"N":0.03},
{"p":"L","b":8.1,"e":8.2,"N":0.03},
{"p":"L","b":8.2,"e":8.3,"N":0.04},
{"p":"L","b":8.3,"e":8.4,"N":0.04},
{"p":"L","b":8.4,"e":8.5,"N":0.03},
{"p":"L","b":8.5,"e":8.6,"N":0.03},
{"p":"L","b":8.6,"e":8.7,"N":0.04},
{"p":"L","b":8.7,"e":8.8,"N":0.03},
{"p":"L","b":8.8,"e":8.9,"N":0.02},
{"p":"L","b":8.9,"e":9.0,"N":0.02},
{"p":"L","b":9.0,"e":9.1,"N":0.02},
{"p":"L","b":9.1,"e":9.2,"N":0.02},
{"p":"L","b":9.2,"e":9.3,"N":0.02},
{"p":"L","b":9.3,"e":9.4,"N":0.03},
{"p":"L","b":9.4,"e":9.5,"N":0.03},
{"p":"L","b":9.5,"e":9.6,"N":0.04},
{"p":"L","b":9.6,"e":9.7,"N":0.03},
{"p":"L","b":9.7,"e":9.8,"N":0.04},
{"p":"L","b":9.8,"e":9.9,"N":0.04},
{"p":"L","b":9.9,"e":10.0,"N":0.03}
]
},
"columns": 2,
"spacing": {"row": 32, "column": 50},
"bounds": "flush",
"concat": [
{
  "width": 253, "height": 154,
  "data": {"name": "ts"},
  "transform": [{"filter": "datum.p == 'T'"}],
  "layer": [
    {"mark": {"type": "area", "color": "#008000", "fillOpacity": 0.3, "clip": true},
     "encoding": {
       "x": {"field": "t", "type": "quantitative", "scale": {"domain": [-30, 632], "nice": false, "zero": false},
             "axis": {"values": [0, 200, 400, 600], "title": "Time [s]", "titleFontWeight": "normal", "titleFontSize": 14, "domain": false, "ticks": false, "grid": false, "labelPadding": 4, "titlePadding": 2}},
       "y": {"field": "Nl", "type": "quantitative", "scale": {"type": "log", "domain": [0.01, 20], "nice": false},
             "axis": {"values": [0.01, 0.1, 1, 10], "labelExpr": "datum.value >= 5 ? '10¹' : datum.value >= 0.5 ? '10⁰' : datum.value >= 0.05 ? '10⁻¹' : '10⁻²'", "title": "Temperature Error [°C]", "titleFontWeight": "normal", "titleFontSize": 14, "ticks": false, "labelPadding": 4, "titlePadding": 4, "grid": true,
                      "gridColor": {"condition": {"test": "datum.value >= 5", "value": "#b0b0b0"}, "value": "#ebebeb"},
                      "gridOpacity": {"condition": {"test": "datum.value < 0.5", "value": 0}, "value": 1}}},
       "y2": {"field": "Nh"}}},
    {"mark": {"type": "area", "color": "#ff0000", "fillOpacity": 0.3, "clip": true},
     "encoding": {"x": {"field": "t", "type": "quantitative"}, "y": {"field": "Al", "type": "quantitative"}, "y2": {"field": "Ah"}}},
    {"mark": {"type": "area", "color": "#ffa500", "fillOpacity": 0.3, "clip": true},
     "encoding": {"x": {"field": "t", "type": "quantitative"}, "y": {"field": "Yl", "type": "quantitative"}, "y2": {"field": "Yh"}}},
    {"mark": {"type": "line", "strokeWidth": 1, "clip": true},
     "encoding": {"x": {"field": "t", "type": "quantitative"}, "y": {"field": "Nm", "type": "quantitative"},
                  "color": {"datum": "Nominal",
                            "scale": {"domain": ["Nominal", "FNN Accurate TM", "FNN Noisy TM"], "range": ["#008000", "#ff0000", "#ffa500"]},
                            "legend": {"title": null, "orient": "none", "legendX": -25, "legendY": -37, "direction": "horizontal", "symbolType": "M-1.4,0H3.6", "symbolSize": 196, "symbolStrokeWidth": 1.2, "labelFontSize": 16, "labelFont": "DejaVu Sans", "labelColor": "#000", "labelOffset": 32, "columnPadding": 34, "padding": 8, "strokeColor": "#d5d5d5", "cornerRadius": 3, "fillColor": "white", "labelLimit": 0}}}},
    {"mark": {"type": "line", "strokeWidth": 1, "clip": true},
     "encoding": {"x": {"field": "t", "type": "quantitative"}, "y": {"field": "Am", "type": "quantitative"}, "color": {"datum": "FNN Accurate TM"}}},
    {"mark": {"type": "line", "strokeWidth": 1, "clip": true},
     "encoding": {"x": {"field": "t", "type": "quantitative"}, "y": {"field": "Ym", "type": "quantitative"}, "color": {"datum": "FNN Noisy TM"}}},
    {"mark": {"type": "rule", "color": "#000", "strokeWidth": 1}, "encoding": {"y": {"datum": 20}}}
  ]
},
{
  "width": 253, "height": 154,
  "data": {"name": "ts"},
  "transform": [{"filter": "datum.p == 'L'"}],
  "layer": [
    {"mark": {"type": "area", "color": "#008000", "fillOpacity": 0.3, "clip": true},
     "encoding": {
       "x": {"field": "t", "type": "quantitative", "scale": {"domain": [-30, 632], "nice": false, "zero": false},
             "axis": {"values": [0, 200, 400, 600], "title": "Time [s]", "titleFontWeight": "normal", "titleFontSize": 14, "domain": false, "ticks": false, "grid": false, "labelPadding": 4, "titlePadding": 2}},
       "y": {"field": "Nl", "type": "quantitative", "scale": {"type": "log", "domain": [0.01, 20], "nice": false},
             "axis": {"values": [0.01, 0.1, 1, 10], "labelExpr": "datum.value >= 5 ? '10¹' : datum.value >= 0.5 ? '10⁰' : datum.value >= 0.05 ? '10⁻¹' : '10⁻²'", "title": "Loss Error [W]", "titleFontWeight": "normal", "titleFontSize": 14, "ticks": false, "labelPadding": 4, "titlePadding": 4, "grid": true,
                      "gridColor": {"condition": {"test": "datum.value >= 5", "value": "#b0b0b0"}, "value": "#ebebeb"},
                      "gridOpacity": {"condition": {"test": "datum.value < 0.5", "value": 0}, "value": 1}}},
       "y2": {"field": "Nh"}}},
    {"mark": {"type": "area", "color": "#ff0000", "fillOpacity": 0.3, "clip": true},
     "encoding": {"x": {"field": "t", "type": "quantitative"}, "y": {"field": "Al", "type": "quantitative"}, "y2": {"field": "Ah"}}},
    {"mark": {"type": "area", "color": "#ffa500", "fillOpacity": 0.3, "clip": true},
     "encoding": {"x": {"field": "t", "type": "quantitative"}, "y": {"field": "Yl", "type": "quantitative"}, "y2": {"field": "Yh"}}},
    {"mark": {"type": "line", "strokeWidth": 1, "clip": true},
     "encoding": {"x": {"field": "t", "type": "quantitative"}, "y": {"field": "Nm", "type": "quantitative"}, "color": {"datum": "Nominal"}}},
    {"mark": {"type": "line", "strokeWidth": 1, "clip": true},
     "encoding": {"x": {"field": "t", "type": "quantitative"}, "y": {"field": "Am", "type": "quantitative"}, "color": {"datum": "FNN Accurate TM"}}},
    {"mark": {"type": "line", "strokeWidth": 1, "clip": true},
     "encoding": {"x": {"field": "t", "type": "quantitative"}, "y": {"field": "Ym", "type": "quantitative"}, "color": {"datum": "FNN Noisy TM"}}},
    {"mark": {"type": "rule", "color": "#000", "strokeWidth": 1}, "encoding": {"y": {"datum": 20}}}
  ]
},
{
  "width": 253, "height": 156,
  "data": {"name": "hist"},
  "transform": [{"filter": "datum.p == 'T'"}],
  "layer": [
    {"mark": {"type": "bar", "color": "#008000", "stroke": "#008000", "strokeWidth": 0.25, "opacity": 0.5, "clip": true},
     "encoding": {
       "x": {"field": "b", "type": "quantitative", "scale": {"domain": [-0.5, 10.5], "nice": false, "zero": false},
             "axis": {"values": [0, 2, 4, 6, 8, 10], "title": "Temperature Error [°C]", "titleFontWeight": "normal", "titleFontSize": 14, "domainColor": "#b0b0b0", "ticks": false, "labelPadding": 2, "titlePadding": 2, "grid": true,
                      "gridColor": {"condition": {"test": "datum.value >= 10", "value": "#b0b0b0"}, "value": "#ebebeb"}}},
       "x2": {"field": "e"},
       "y": {"field": "N", "type": "quantitative", "scale": {"domain": [0, 2], "nice": false},
             "axis": {"values": [0, 0.5, 1, 1.5, 2], "format": ".1f", "title": "Frequency", "titleFontWeight": "normal", "titleFontSize": 14, "ticks": false, "labelPadding": 4, "titlePadding": 4, "grid": true,
                      "gridColor": {"condition": {"test": "datum.value == 1", "value": "#b0b0b0"}, "value": "#ebebeb"}}},
       "y2": {"datum": 0}}},
    {"mark": {"type": "bar", "color": "#ff0000", "stroke": "#ff0000", "strokeWidth": 0.25, "opacity": 0.7, "clip": true},
     "encoding": {"x": {"field": "b", "type": "quantitative"}, "x2": {"field": "e"}, "y": {"field": "A", "type": "quantitative"}, "y2": {"datum": 0}}},
    {"mark": {"type": "bar", "color": "#ffa500", "stroke": "#ffa500", "strokeWidth": 0.25, "opacity": 0.5, "clip": true},
     "encoding": {"x": {"field": "b", "type": "quantitative"}, "x2": {"field": "e"}, "y": {"field": "Y", "type": "quantitative"}, "y2": {"datum": 0}}},
    {"mark": {"type": "rule", "color": "#000", "strokeWidth": 1}, "encoding": {"y": {"datum": 2}}}
  ]
},
{
  "width": 253, "height": 156,
  "data": {"name": "hist"},
  "transform": [{"filter": "datum.p == 'L'"}],
  "layer": [
    {"mark": {"type": "bar", "color": "#008000", "stroke": "#008000", "strokeWidth": 0.25, "opacity": 0.5, "clip": true},
     "encoding": {
       "x": {"field": "b", "type": "quantitative", "scale": {"domain": [-0.5, 10.5], "nice": false, "zero": false},
             "axis": {"values": [0, 2, 4, 6, 8, 10], "title": "Loss Error", "titleFontWeight": "normal", "titleFontSize": 14, "domainColor": "#b0b0b0", "ticks": true, "tickSize": 2, "labelPadding": 0, "titlePadding": 2, "grid": true, "zindex": 1,
                      "gridColor": {"condition": {"test": "datum.value >= 4", "value": "#b0b0b0"}, "value": "#ebebeb"}}},
       "x2": {"field": "e"},
       "y": {"field": "N", "type": "quantitative", "scale": {"domain": [0, 2], "nice": false},
             "axis": {"values": [0, 0.5, 1, 1.5, 2], "format": ".1f", "title": "Frequency", "titleFontWeight": "normal", "titleFontSize": 14, "ticks": false, "labelPadding": 4, "titlePadding": 4, "grid": true,
                      "gridColor": {"condition": {"test": "datum.value == 1", "value": "#b0b0b0"}, "value": "#ebebeb"}}},
       "y2": {"datum": 0}}},
    {"mark": {"type": "bar", "color": "#ff0000", "stroke": "#ff0000", "strokeWidth": 0.25, "opacity": 0.7, "clip": true},
     "encoding": {"x": {"field": "b", "type": "quantitative"}, "x2": {"field": "e"}, "y": {"field": "A", "type": "quantitative"}, "y2": {"datum": 0}}},
    {"mark": {"type": "bar", "color": "#ffa500", "stroke": "#ffa500", "strokeWidth": 0.25, "opacity": 0.5, "clip": true},
     "encoding": {"x": {"field": "b", "type": "quantitative"}, "x2": {"field": "e"}, "y": {"field": "Y", "type": "quantitative"}, "y2": {"datum": 0}}},
    {"mark": {"type": "rule", "color": "#000", "strokeWidth": 1}, "encoding": {"y": {"datum": 2}}}
  ]
}
]
}
